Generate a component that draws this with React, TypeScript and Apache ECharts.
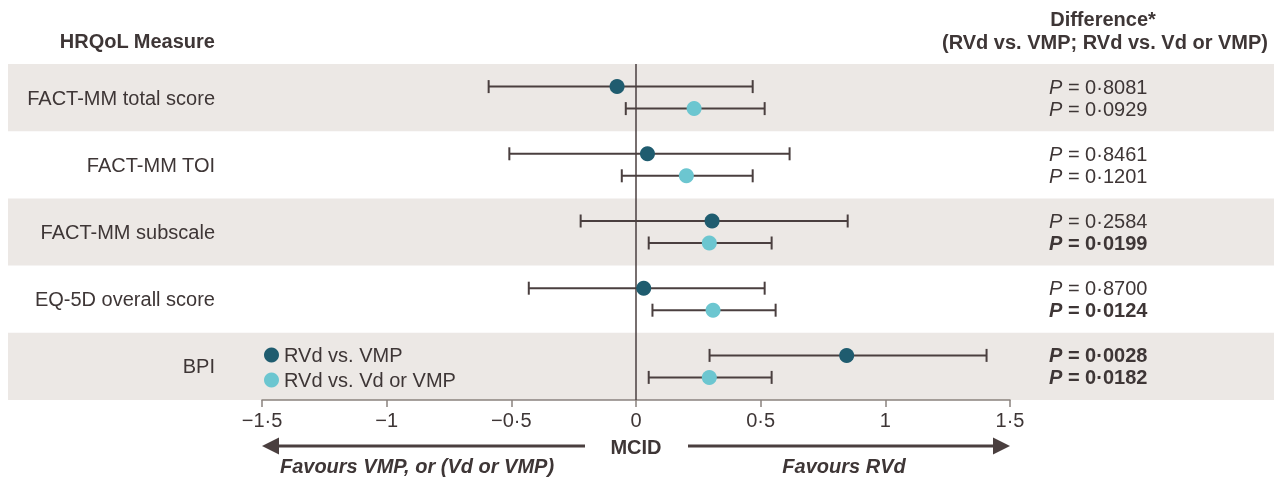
import React, { useEffect, useRef } from "react";
import * as echarts from "echarts";

const measures = ["FACT-MM total score", "FACT-MM TOI", "FACT-MM subscale", "EQ-5D overall score", "BPI"];
const vmpEst = [-0.076, 0.046, 0.305, 0.031, 0.845];
const vmpLow = [-0.591, -0.508, -0.222, -0.43, 0.295];
const vmpHigh = [0.468, 0.616, 0.849, 0.516, 1.406];
const vdEst = [0.233, 0.202, 0.294, 0.309, 0.294];
const vdLow = [-0.041, -0.057, 0.051, 0.066, 0.051];
const vdHigh = [0.516, 0.468, 0.544, 0.56, 0.544];
const pVmp = ["0·8081", "0·8461", "0·2584", "0·8700", "0·0028"];
const pVd = ["0·0929", "0·1201", "0·0199", "0·0124", "0·0182"];
const seriesNames = ["RVd vs. VMP", "RVd vs. Vd or VMP"];
const xMin = -1.5;
const xMax = 1.5;
const xStep = 0.5;

const FONT = "'Liberation Sans', Arial, Helvetica, sans-serif";
const FS = 20;
const TXT = "#3e3636";
const INK = "#4a3f3f";
const DARK = "#1f5c6f";
const LIGHT = "#6cc6d0";
const BAND = "#ece8e5";

function makeRender(offset: number, color: string) {
  return (params: any, api: any) => {
    const row = api.value(3);
    const c = api.coord([api.value(0), row]);
    const lo = api.coord([api.value(1), row]);
    const hi = api.coord([api.value(2), row]);
    const y = c[1] + offset;
    const ls = { stroke: INK, lineWidth: 2 };
    return {
      type: "group",
      children: [
        { type: "line", shape: { x1: lo[0], y1: y, x2: hi[0], y2: y }, style: ls },
        { type: "line", shape: { x1: lo[0], y1: y - 6.5, x2: lo[0], y2: y + 6.5 }, style: ls },
        { type: "line", shape: { x1: hi[0], y1: y - 6.5, x2: hi[0], y2: y + 6.5 }, style: ls },
        { type: "circle", shape: { cx: c[0], cy: y, r: 7.5 }, style: { fill: color } },
      ],
    };
  };
}

function pLine(v: string) {
  const bold = parseFloat(v.replace("·", ".")) < 0.05;
  return bold ? `{pb|P}{b| = ${v}}` : `{pi|P}{n| = ${v}}`;
}

function rowIndex(v: number) {
  const r = Math.round(v * 2) / 2;
  return Number.isInteger(r) && r >= 0 && r < measures.length ? r : -1;
}

export default function App() {
  const ref = useRef<HTMLDivElement>(null);
  useEffect(() => {
    if (!ref.current) return;
    const chart = echarts.init(ref.current, null, { renderer: "svg" });
    const dataVmp = measures.map((_, i) => [vmpEst[i], vmpLow[i], vmpHigh[i], i]);
    const dataVd = measures.map((_, i) => [vdEst[i], vdLow[i], vdHigh[i], i]);
    const rich = {
      pi: { fontFamily: FONT, fontSize: FS, fontStyle: "italic", color: TXT, lineHeight: 22 },
      n: { fontFamily: FONT, fontSize: FS, color: TXT, lineHeight: 22 },
      pb: { fontFamily: FONT, fontSize: FS, fontStyle: "italic", fontWeight: "bold", color: TXT, lineHeight: 22 },
      b: { fontFamily: FONT, fontSize: FS, fontWeight: "bold", color: TXT, lineHeight: 22 },
    };
    const hidden = { axisLine: { show: false }, axisTick: { show: false }, splitLine: { show: false } };
    chart.setOption({
      animation: false,
      textStyle: { fontFamily: FONT },
      grid: [
        { left: 8, right: 0, top: 64, bottom: 78 },
        { left: 262, right: 264, top: 64, bottom: 78 },
      ],
      xAxis: [
        { type: "value", gridIndex: 0, show: false, min: 0, max: 1 },
        {
          type: "value",
          gridIndex: 1,
          min: xMin,
          max: xMax,
          interval: xStep,
          splitLine: { show: false },
          axisLine: { show: true, onZero: false, lineStyle: { color: "#8a827e", width: 1.5 } },
          axisTick: { show: true, length: 7, lineStyle: { color: "#8a827e", width: 1.5 } },
          axisLabel: {
            color: TXT,
            fontSize: FS,
            fontFamily: FONT,
            margin: 10,
            formatter: (v: number) => {
              const s = String(v).replace(".", "·");
              return v < 0 ? "−" + s.slice(1) : s;
            },
          },
        },
      ],
      yAxis: [
        {
          type: "value",
          gridIndex: 0,
          inverse: true,
          min: 0,
          max: measures.length,
          interval: 1,
          ...hidden,
          axisLabel: { show: false },
          splitArea: { show: true, areaStyle: { color: [BAND, "rgba(255,255,255,0)"] } },
        },
        {
          type: "value",
          gridIndex: 1,
          inverse: true,
          min: -0.5,
          max: measures.length - 0.5,
          interval: 0.5,
          ...hidden,
          axisLabel: {
            color: TXT,
            fontSize: FS,
            fontFamily: FONT,
            margin: 47,
            formatter: (v: number) => {
              const r = rowIndex(v);
              return r >= 0 ? measures[r] : "";
            },
          },
        },
        {
          type: "value",
          gridIndex: 1,
          inverse: true,
          position: "right",
          min: -0.5,
          max: measures.length - 0.5,
          interval: 0.5,
          ...hidden,
          axisLabel: {
            margin: 39,
            align: "left",
            formatter: (v: number) => {
              const r = rowIndex(v);
              return r >= 0 ? pLine(pVmp[r]) + "\n" + pLine(pVd[r]) : "";
            },
            rich,
          },
        },
      ],
      legend: {
        orient: "vertical",
        left: 259,
        top: 340,
        itemWidth: 15,
        itemHeight: 15,
        itemGap: 5,
        textStyle: { color: TXT, fontSize: FS, fontFamily: FONT },
        data: seriesNames.map((n) => ({ name: n, icon: "circle" })),
      },
      series: [
        {
          type: "custom",
          name: seriesNames[0],
          xAxisIndex: 1,
          yAxisIndex: 1,
          itemStyle: { color: DARK },
          encode: { x: [0, 1, 2], y: 3 },
          renderItem: makeRender(-11, DARK),
          data: dataVmp,
          z: 5,
          markLine: {
            silent: true,
            symbol: "none",
            label: { show: false },
            lineStyle: { color: INK, width: 1.5, type: "solid" },
            data: [{ xAxis: 0 }],
          },
        },
        {
          type: "custom",
          name: seriesNames[1],
          xAxisIndex: 1,
          yAxisIndex: 1,
          itemStyle: { color: LIGHT },
          encode: { x: [0, 1, 2], y: 3 },
          renderItem: makeRender(11, LIGHT),
          data: dataVd,
          z: 5,
        },
      ],
      graphic: [
        {
          type: "text",
          x: 215,
          y: 41,
          style: { text: "HRQoL Measure", font: `bold ${FS}px ${FONT}`, fill: TXT, textAlign: "right", textVerticalAlign: "middle" },
        },
        {
          type: "text",
          x: 1103,
          y: 19,
          style: { text: "Difference*", font: `bold ${FS}px ${FONT}`, fill: TXT, textAlign: "center", textVerticalAlign: "middle" },
        },
        {
          type: "text",
          x: 1105,
          y: 42,
          style: {
            text: "(RVd vs. VMP; RVd vs. Vd or VMP)",
            font: `bold ${FS}px ${FONT}`,
            fill: TXT,
            textAlign: "center",
            textVerticalAlign: "middle",
          },
        },
        { type: "line", shape: { x1: 585, y1: 446, x2: 274, y2: 446 }, style: { stroke: INK, lineWidth: 3 } },
        { type: "polygon", shape: { points: [[262, 446], [279, 437.5], [279, 454.5]] }, style: { fill: INK } },
        { type: "line", shape: { x1: 688, y1: 446, x2: 998, y2: 446 }, style: { stroke: INK, lineWidth: 3 } },
        { type: "polygon", shape: { points: [[1010, 446], [993, 437.5], [993, 454.5]] }, style: { fill: INK } },
        {
          type: "text",
          x: 636,
          y: 447,
          style: { text: "MCID", font: `bold ${FS}px ${FONT}`, fill: TXT, textAlign: "center", textVerticalAlign: "middle" },
        },
        {
          type: "text",
          x: 417,
          y: 466,
          style: {
            text: "Favours VMP, or (Vd or VMP)",
            font: `italic bold ${FS}px ${FONT}`,
            fill: TXT,
            textAlign: "center",
            textVerticalAlign: "middle",
          },
        },
        {
          type: "text",
          x: 844,
          y: 466,
          style: { text: "Favours RVd", font: `italic bold ${FS}px ${FONT}`, fill: TXT, textAlign: "center", textVerticalAlign: "middle" },
        },
      ],
    });
    return () => chart.dispose();
  }, []);
  return <div ref={ref} style={{ position: "fixed", left: 0, top: 0, width: 1274, height: 478 }} />;
}
